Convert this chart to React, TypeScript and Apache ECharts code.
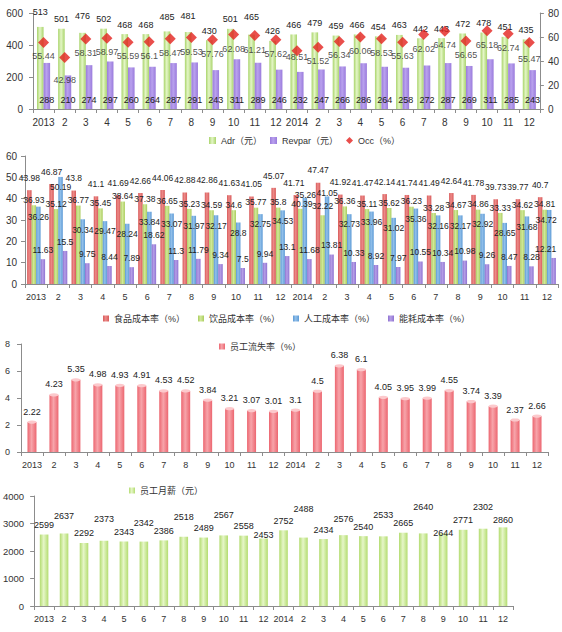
import React, { useEffect, useRef } from 'react';
import * as echarts from 'echarts';

const categories = ['2013','2','3','4','5','6','7','8','9','10','11','12','2014','2','3','4','5','6','7','8','9','10','11','12'];

// Panel 1
const adr = [513,501,476,502,468,468,485,481,430,501,465,426,466,479,459,466,454,463,442,443,472,478,451,435];
const revpar = [288,210,274,297,260,264,287,291,243,311,289,246,232,247,266,286,264,258,272,287,269,311,285,243];
const occ = [55.44,42.98,58.31,58.97,55.59,56.1,58.47,59.53,57.76,62.08,61.21,57.62,48.51,51.52,56.34,60.06,58.53,55.63,62.02,64.74,56.65,65.18,62.74,55.47];

// Panel 2
const food = [43.98,46.87,43.8,41.1,41.69,42.66,44.06,42.88,42.86,41.63,41.05,45.07,41.71,47.47,41.92,41.47,42.14,41.74,41.49,42.64,41.78,39.73,39.77,40.7];
const drink = [36.93,35.12,36.77,35.45,38.64,37.38,36.65,35.23,34.59,34.6,35.77,35.8,35.26,32.22,36.36,35.11,35.62,36.23,33.28,34.67,34.86,33.33,34.62,34.81];
const labor = [36.26,50.19,30.34,29.47,28.24,33.84,33.07,31.97,32.17,28.8,32.75,34.53,40.39,41.05,32.73,33.96,31.02,35.36,32.16,32.17,32.92,28.65,31.68,34.72];
const energy = [11.63,15.5,9.75,8.44,7.89,18.62,11.3,11.79,9.34,7.5,9.94,13.1,11.68,13.81,10.33,8.92,7.97,10.55,10.34,10.98,9.26,8.47,8.28,12.21];

// Panel 3
const turnover = [2.22,4.23,5.35,4.98,4.93,4.91,4.53,4.52,3.84,3.21,3.07,3.01,3.1,4.5,6.38,6.1,4.05,3.95,3.99,4.55,3.74,3.39,2.37,2.66];

// Panel 4
const salary = [2599,2637,2292,2373,2343,2342,2386,2518,2489,2567,2558,2453,2752,2488,2434,2576,2540,2533,2665,2640,2644,2771,2810,2860];
const salaryLabels = ['2599','2637','2292','2373','2343','2342','2386','2518','2489','2567','2558','2453','2752','2488','2434','2576','2540','2533','2665','2640','2644','2771','2302','2860'];

// label placement tweaks (px), style only
const adrLift = [5,0,7,0,0,0,5,7,0,0,8,0,0,0,0,0,0,0,0,0,0,0,0,0];
const occShift = [0,9,0,0,0,0,0,0,0,0,0,0,-8,0,0,0,0,0,0,0,0,0,0,3];
const salaryLift = [0,8,0,12,0,9,0,10,0,11,0,-6,0,19,0,7,0,12,0,17,-9,0,12,-2];
const foodOffset: Record<number, number[]> = { 12: [-2, 0] };
const drinkOffset: Record<number, number[]> = { 12: [5, -9], 13: [0, -4] };
const laborOffset: Record<number, number[]> = { 12: [-3, -4], 13: [0, -14], 23: [-3, 0] };
const energyOffset: Record<number, number[]> = { 23: [-8, 0] };

const FONT = "'Liberation Sans', 'Noto Sans CJK SC', sans-serif";
const AXIS_COLOR = '#8c8c8c';
const TEXT = '#333';

function hGrad(edge: string, mid: string) {
  return new echarts.graphic.LinearGradient(0, 0, 1, 0, [
    { offset: 0, color: edge },
    { offset: 0.45, color: mid },
    { offset: 1, color: edge },
  ]);
}

function xAxisFor(grid: number, fontSize: number) {
  return {
    type: 'category',
    gridIndex: grid,
    data: categories,
    axisLine: { show: true, lineStyle: { color: AXIS_COLOR } },
    axisTick: { show: true, length: 4, lineStyle: { color: AXIS_COLOR } },
    axisLabel: { interval: 0, color: TEXT, fontFamily: FONT, fontSize, margin: 8 },
    splitLine: { show: false },
  };
}

function yAxisFor(grid: number, min: number, max: number, interval: number, opts: any = {}) {
  return {
    type: 'value',
    gridIndex: grid,
    min,
    max,
    interval,
    position: opts.position || 'left',
    axisLine: { show: true, lineStyle: { color: AXIS_COLOR } },
    axisTick: { show: true, length: 4, lineStyle: { color: AXIS_COLOR } },
    axisLabel: {
      color: TEXT, fontFamily: FONT, fontSize: opts.fontSize || 10, margin: opts.margin || 9,
      formatter: (v: number) => String(v),
    },
    splitLine: { show: false },
  };
}

const lbl = (extra: any) => ({
  show: true,
  color: '#222',
  fontFamily: FONT,
  ...extra,
});

const withOffsets = (arr: number[], offs: Record<number, number[]>) =>
  arr.map((v, i) => (offs[i] ? { value: v, label: { offset: offs[i] } } : v));

export default function App() {
  const ref = useRef<HTMLDivElement>(null);
  useEffect(() => {
    document.body.style.margin = '0';
    if (!ref.current) return;
    const chart = echarts.init(ref.current, undefined, { renderer: 'svg' });
    const legendText = { color: TEXT, fontFamily: FONT, fontSize: 9 };
    const option: any = {
      animation: false,
      backgroundColor: '#fff',
      grid: [
        { left: 33, top: 13, width: 507, height: 96 },
        { left: 25, top: 156, width: 533, height: 128 },
        { left: 21, top: 344, width: 527, height: 108 },
        { left: 33, top: 496, width: 480, height: 110 },
      ],
      legend: [
        {
          left: 204, top: 131, itemWidth: 7, itemHeight: 7, itemGap: 8, textStyle: legendText,
          data: [
            { name: 'Adr（元）', icon: 'rect' },
            { name: 'Revpar（元）', icon: 'rect' },
            { name: 'Occ（%）', icon: 'diamond' },
          ],
        },
        {
          left: 98, top: 309, itemWidth: 6, itemHeight: 6, itemGap: 13, textStyle: legendText, icon: 'rect',
          data: ['食品成本率（%）', '饮品成本率（%）', '人工成本率（%）', '能耗成本率（%）'],
        },
        {
          left: 214, top: 337, itemWidth: 6, itemHeight: 6, textStyle: legendText, icon: 'rect',
          data: ['员工流失率（%）'],
        },
        {
          left: 124, top: 481, itemWidth: 6, itemHeight: 6, textStyle: legendText, icon: 'rect',
          data: ['员工月薪（元）'],
        },
      ],
      xAxis: [xAxisFor(0, 10), xAxisFor(1, 9), xAxisFor(2, 9), xAxisFor(3, 9)],
      yAxis: [
        yAxisFor(0, 0, 600, 200, { margin: 10 }),
        yAxisFor(0, 0, 80, 20, { position: 'right', margin: 8 }),
        yAxisFor(1, 0, 60, 10, { margin: 8 }),
        yAxisFor(2, 0, 8, 2, { margin: 11, fontSize: 9 }),
        yAxisFor(3, 0, 4000, 1000, { margin: 10, fontSize: 9.5 }),
      ],
      series: [
        {
          name: 'Adr（元）', type: 'bar', xAxisIndex: 0, yAxisIndex: 0,
          barGap: '0%', barCategoryGap: '38%',
          itemStyle: { color: hGrad('#a9d46b', '#e4f6c6') },
          label: lbl({ position: 'top', distance: 5, fontSize: 9 }),
          data: adr.map((v, i) => ({ value: v, label: { offset: [0, -adrLift[i]] } })),
        },
        {
          name: 'Revpar（元）', type: 'bar', xAxisIndex: 0, yAxisIndex: 0,
          barGap: '0%', barCategoryGap: '38%',
          itemStyle: { color: hGrad('#9a7bdc', '#b9a1ee') },
          label: lbl({ position: 'insideBottom', distance: 5, fontSize: 9 }),
          data: revpar,
        },
        {
          name: 'Occ（%）', type: 'scatter', xAxisIndex: 0, yAxisIndex: 1,
          symbol: 'diamond', symbolSize: 11,
          itemStyle: { color: '#e3221e' },
          label: lbl({ position: 'bottom', distance: 4, fontSize: 9 }),
          data: occ.map((v, i) => ({ value: v, label: { offset: [0, occShift[i]] } })),
          z: 5,
        },
        {
          name: '食品成本率（%）', type: 'bar', xAxisIndex: 1, yAxisIndex: 2,
          barGap: '0%', barCategoryGap: '19%',
          itemStyle: { color: hGrad('#d85a5a', '#ec8a88') },
          label: lbl({ position: 'top', distance: 8, fontSize: 8.5 }),
          data: withOffsets(food, foodOffset),
        },
        {
          name: '饮品成本率（%）', type: 'bar', xAxisIndex: 1, yAxisIndex: 2,
          barGap: '0%', barCategoryGap: '19%',
          itemStyle: { color: hGrad('#aacd5e', '#d2e99a') },
          label: lbl({ position: 'top', distance: 1, fontSize: 8.5 }),
          data: withOffsets(drink, drinkOffset),
        },
        {
          name: '人工成本率（%）', type: 'bar', xAxisIndex: 1, yAxisIndex: 2,
          barGap: '0%', barCategoryGap: '19%',
          itemStyle: { color: hGrad('#5c9ad6', '#92c0ea') },
          label: lbl({ position: 'insideTop', distance: 6, fontSize: 8.5 }),
          data: withOffsets(labor, laborOffset),
        },
        {
          name: '能耗成本率（%）', type: 'bar', xAxisIndex: 1, yAxisIndex: 2,
          barGap: '0%', barCategoryGap: '19%',
          itemStyle: { color: hGrad('#8f72d2', '#b59ee6') },
          label: lbl({ position: 'top', distance: 5, fontSize: 8.5 }),
          data: withOffsets(energy, energyOffset),
        },
        {
          name: '员工流失率（%）', type: 'bar', xAxisIndex: 2, yAxisIndex: 3,
          barCategoryGap: '59%',
          itemStyle: { color: hGrad('#ec6670', '#f7a4aa') },
          label: lbl({ position: 'top', distance: 6, fontSize: 9 }),
          data: turnover,
        },
        {
          name: 'turnoverCap', type: 'pictorialBar', xAxisIndex: 2, yAxisIndex: 3,
          symbol: 'circle', symbolSize: [9, 3], symbolPosition: 'end', symbolOffset: [0, '-50%'],
          itemStyle: { color: '#fcc9cc' }, silent: true, z: 3,
          data: turnover,
        },
        {
          name: '员工月薪（元）', type: 'bar', xAxisIndex: 3, yAxisIndex: 4,
          barCategoryGap: '57%',
          itemStyle: { color: hGrad('#b3dc70', '#e6f6c8') },
          label: lbl({
            position: 'top', distance: 5, fontSize: 9,
            formatter: (p: any) => salaryLabels[p.dataIndex],
          }),
          data: salary.map((v, i) => ({ value: v, label: { offset: [0, -salaryLift[i]] } })),
        },
      ],
    };
    chart.setOption(option);
    return () => chart.dispose();
  }, []);
  return <div ref={ref} style={{ width: 562, height: 632 }} />;
}
